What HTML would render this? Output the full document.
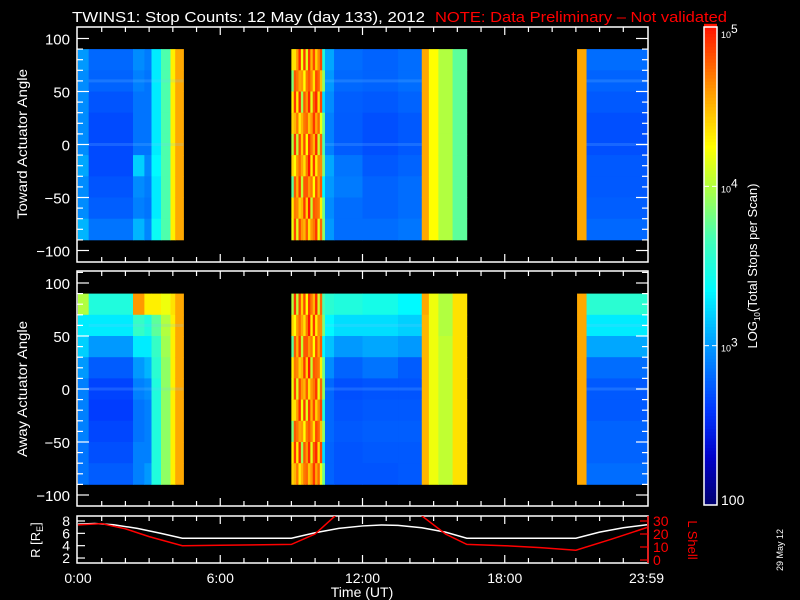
<!DOCTYPE html>
<html><head><meta charset="utf-8"><style>
html,body{margin:0;padding:0;background:#000;}
svg{display:block;font-family:"Liberation Sans",sans-serif;}
</style></head><body>
<svg id="c" width="800" height="600" viewBox="0 0 800 600">
<rect width="800" height="600" fill="#000"/>
<g id="heat"></g>
<g id="axes"></g>
<text x="72" y="22" fill="#fff" font-size="15" textLength="353" lengthAdjust="spacingAndGlyphs">TWINS1: Stop Counts: 12 May (day 133), 2012</text>
<text x="435" y="22" fill="#f00" font-size="15" textLength="292" lengthAdjust="spacingAndGlyphs">NOTE: Data Preliminary – Not validated</text>
<text transform="translate(27,144) rotate(-90)" text-anchor="middle" fill="#fff" font-size="14" textLength="150" lengthAdjust="spacingAndGlyphs">Toward Actuator Angle</text>
<text transform="translate(27,389) rotate(-90)" text-anchor="middle" fill="#fff" font-size="14" textLength="136" lengthAdjust="spacingAndGlyphs">Away Actuator Angle</text>
<text transform="translate(40,540) rotate(-90)" text-anchor="middle" fill="#fff" font-size="13">R [R<tspan font-size="9" dy="3">E</tspan><tspan dy="-3">]</tspan></text>
<text transform="translate(688,540) rotate(90)" text-anchor="middle" fill="#f00" font-size="13">L Shell</text>
<text x="362" y="597" text-anchor="middle" fill="#fff" font-size="14">Time (UT)</text>
<text transform="translate(783,550) rotate(-90)" text-anchor="middle" fill="#fff" font-size="9">29 May 12</text>
<text transform="translate(757,266) rotate(-90)" text-anchor="middle" fill="#fff" font-size="13">LOG<tspan font-size="8" dy="3">10</tspan><tspan dy="-3">(Total Stops per Scan)</tspan></text>
</svg>
<script>
// ---- data ----
const segStart = [0.0,0.45,2.32,2.8,3.1,3.5,3.9,4.1, 10.4,10.8,12.0,13.5, 14.5,14.8,15.2,15.8, 21.05,21.45];
const segEnd   = [0.45,2.32,2.8,3.1,3.5,3.9,4.1,4.45, 10.8,12.0,13.5,14.5, 14.8,15.2,15.8,16.4, 21.45,24.0];
const topGrid = [
 [3.0,2.95,2.95,2.95,2.95,3.05,2.95,2.95,3.1],
 [2.8,2.78,2.72,2.68,2.68,2.68,2.72,2.76,2.85],
 [2.95,2.9,2.85,2.85,2.85,3.2,2.95,2.9,3.1],
 [2.88,2.85,2.85,2.85,2.85,2.92,2.88,2.85,2.92],
 [3.3,3.3,3.3,3.3,3.3,3.35,3.3,3.3,3.4],
 [3.7,3.7,3.7,3.7,3.7,3.7,3.7,3.7,3.7],
 [4.3,4.3,4.3,4.3,4.3,4.3,4.3,4.3,4.3],
 [4.55,4.55,4.55,4.55,4.55,4.55,4.55,4.55,4.55],
 [3.05,3.0,2.95,2.9,2.9,3.05,3.0,2.95,3.0],
 [2.82,2.8,2.76,2.75,2.75,2.85,2.88,2.82,2.82],
 [2.78,2.78,2.74,2.7,2.7,2.74,2.78,2.78,2.82],
 [2.82,2.82,2.78,2.74,2.74,2.78,2.82,2.82,2.86],
 [4.55,4.55,4.55,4.55,4.55,4.55,4.55,4.55,4.55],
 [4.25,4.25,4.25,4.25,4.25,4.25,4.25,4.25,4.25],
 [4.0,4.0,4.0,4.0,4.0,4.0,4.0,4.0,4.0],
 [3.75,3.75,3.75,3.75,3.75,3.75,3.75,3.75,3.75],
 [4.55,4.55,4.55,4.55,4.55,4.55,4.55,4.55,4.55],
 [2.82,2.78,2.74,2.7,2.7,2.74,2.74,2.76,2.8]
];
const botGrid = [
 [4.0,3.3,3.2,3.0,2.9,2.9,2.9,2.85,2.85],
 [3.5,3.3,3.0,2.75,2.65,2.62,2.66,2.7,2.75],
 [4.6,3.6,3.3,3.0,2.9,2.85,2.85,2.9,2.9],
 [4.3,3.5,3.3,3.1,2.95,2.9,2.9,2.9,3.0],
 [4.3,3.75,3.6,3.55,3.5,3.5,3.5,3.5,3.5],
 [4.2,4.0,3.95,3.9,3.9,3.9,3.9,3.9,3.9],
 [4.35,4.3,4.3,4.3,4.3,4.3,4.3,4.3,4.3],
 [4.55,4.55,4.55,4.55,4.55,4.55,4.55,4.55,4.55],
 [3.55,3.35,3.15,2.95,2.8,2.8,2.8,2.78,2.78],
 [3.5,3.25,3.0,2.78,2.7,2.72,2.74,2.72,2.72],
 [3.45,3.25,3.05,2.85,2.72,2.74,2.76,2.74,2.72],
 [3.35,3.2,3.0,2.75,2.72,2.74,2.76,2.74,2.74],
 [4.55,4.5,4.5,4.5,4.5,4.5,4.5,4.5,4.5],
 [4.2,4.2,4.2,4.2,4.2,4.2,4.2,4.2,4.2],
 [4.0,4.0,4.05,4.05,4.05,4.05,4.05,4.05,4.05],
 [4.35,4.35,4.35,4.35,4.35,4.35,4.35,4.35,4.35],
 [4.55,4.55,4.55,4.55,4.55,4.55,4.55,4.55,4.55],
 [3.55,3.3,3.05,2.82,2.74,2.74,2.78,2.78,2.82]
];
// noisy high-count interval 9.0 - 10.4 h, 0.1 h columns
const noiseStart = 9.0;
const noiseCols = [4.2,4.7,4.5,4.75,4.4,4.7,4.6,4.8,4.5,4.7,4.75,4.55,4.65,3.7];
const noiseRows = [0.15,-0.35,0.1,0.2,-0.2,0.2,-0.45,0.1,0.0];
const bandEdges = [90,70,50,30,10,-10,-30,-50,-70,-90];
// orbit
const orbitHours = [0,0.7,1.5,2.5,3.5,4.4,9.0,10,11,12,12.8,13.5,14.5,15.5,16.4,21.0,22,23,24];
const orbitR     = [7.5,7.6,7.4,6.8,6.0,5.2,5.2,6.1,6.8,7.2,7.35,7.3,6.9,6.2,5.2,5.2,6.2,6.9,7.4];
const lHoursA = [0,1,2,3,4.4,6,9,10,10.85];
const lValsA  = [27,28,24,18,11,11.3,12,20,34];
const lHoursB = [14.5,15.5,16.4,18,19.5,21,22.5,24];
const lValsB  = [34,20,12,11,9.5,7.5,16,25];
const xTickLabels = ['0:00','6:00','12:00','18:00','23:59'];
const xTickHours = [0,6,12,18,23.98];
const yTickVals = [100,50,0,-50,-100];
const rTicks = [8,6,4,2];
const lTicks = [30,20,10,0];
const cbTicks = [5,4,3,2];
const cbLabels = ['10','10','10','100'];
const cbExp = ['5','4','3',''];

// ---- scales ----
const X0=78, X1=647;
const xs = h => X0 + h/24*(X1-X0);
const panels = [{c:144.5, top:27, bot:262, grid:topGrid, name:'top'},{c:389, top:271, bot:506, grid:botGrid, name:'bottom'}];
const ys = (p,a) => p.c - a*1.06;
const cbY = v => 505 - (v-2)/3*478;
const rY = r => 521 + (8-r)*6.17;
const lY = l => 560 - l*1.3;

const stops=[[0,0,0,110],[0.1,0,0,200],[0.2,0,55,255],[0.33,0,150,255],[0.45,0,250,255],[0.56,70,255,180],[0.67,180,255,60],[0.75,255,255,0],[0.87,255,150,0],[1,255,20,0]];
function col(v){let t=Math.max(0,Math.min(1,(v-2)/3));for(let i=1;i<stops.length;i++){if(t<=stops[i][0]){const a=stops[i-1],b=stops[i],f=(t-a[0])/(b[0]-a[0]);return `rgb(${Math.round(a[1]+f*(b[1]-a[1]))},${Math.round(a[2]+f*(b[2]-a[2]))},${Math.round(a[3]+f*(b[3]-a[3]))})`;}}return 'rgb(255,20,0)';}

const NS='http://www.w3.org/2000/svg';
function mk(tag,attrs,parent){const e=document.createElementNS(NS,tag);for(const k in attrs)e.setAttribute(k,attrs[k]);parent.appendChild(e);return e;}
const heat=document.getElementById('heat'), axes=document.getElementById('axes'), svg=document.getElementById('c');

panels.forEach(p=>{
  const g=mk('g',{},heat);
  
  
  for(let i=0;i<segStart.length;i++){
    for(let j=0;j<9;j++){
      const x=xs(segStart[i]), w=xs(segEnd[i])-x, y=ys(p,bandEdges[j]), h=ys(p,bandEdges[j+1])-y;
      const r=mk('rect',{x:x,y:y,width:w+0.4,height:h+0.4,fill:col(p.grid[i][j])},g);
      
      
    }
  }
  for(let i=0;i<noiseCols.length;i++){
    for(let j=0;j<9;j++){
      const x=xs(noiseStart+i*0.1), w=xs(noiseStart+(i+1)*0.1)-x, y=ys(p,bandEdges[j]), h=ys(p,bandEdges[j+1])-y;
      const r=mk('rect',{x:x,y:y,width:w+0.4,height:h+0.4,fill:col(noiseCols[i]+noiseRows[(i+j+(p.name==='top'?0:4))%9])},g);
      
      
    }
  }
  [[0.45,4.45],[10.4,14.5],[21.45,24]].forEach(s=>{
    [60,0].forEach(a=>{
      const r=mk('rect',{x:xs(s[0]),y:ys(p,a)-1.5,width:xs(s[1])-xs(s[0]),height:3,fill:'rgba(120,200,255,0.2)'},g);
      
      
    });
  });
  const f=mk('rect',{x:77,y:p.top,width:571,height:p.bot-p.top,fill:'none',stroke:'#fff','stroke-width':1.5},axes);
  
  
  for(let a=-110;a<=110;a+=10){
    const y=ys(p,a); if(y<p.top+1||y>p.bot-1) continue;
    const L=(a%50===0)?12:6;
    mk('line',{x1:77,x2:77+L,y1:y,y2:y,stroke:'#fff','stroke-width':1.2},axes);
    mk('line',{x1:648,x2:648-L,y1:y,y2:y,stroke:'#fff','stroke-width':1.2},axes);
  }
  yTickVals.forEach(v=>{
    const t=mk('text',{x:70,y:ys(p,v)+6,'text-anchor':'end',fill:'#fff','font-size':15},axes);
    t.textContent=v===0?'0':(v<0?'\u2212'+(-v):String(v));
    
    
  });
  for(let h=1;h<24;h++){
    const L=(h%6===0)?8:5;
    mk('line',{x1:xs(h),x2:xs(h),y1:p.top,y2:p.top+L,stroke:'#fff','stroke-width':1.2},axes);
    mk('line',{x1:xs(h),x2:xs(h),y1:p.bot,y2:p.bot-L,stroke:'#fff','stroke-width':1.2},axes);
  }
});

// orbit panel
const of=mk('rect',{x:77,y:516,width:571,height:47,fill:'none',stroke:'#fff','stroke-width':1.5},axes);


mk('line',{x1:648,x2:648,y1:516,y2:563,stroke:'#f00','stroke-width':1.5},axes);
for(let h=1;h<24;h++){
  const L=(h%6===0)?8:5;
  mk('line',{x1:xs(h),x2:xs(h),y1:516,y2:516+L,stroke:'#fff','stroke-width':1.2},axes);
  mk('line',{x1:xs(h),x2:xs(h),y1:563,y2:563-L,stroke:'#fff','stroke-width':1.2},axes);
}
rTicks.forEach(r=>{
  mk('line',{x1:77,x2:85,y1:rY(r),y2:rY(r),stroke:'#fff','stroke-width':1.2},axes);
  const t=mk('text',{x:70,y:rY(r)+5,'text-anchor':'end',fill:'#fff','font-size':14},axes);
  t.textContent=String(r);
  
  
});
lTicks.forEach(l=>{
  mk('line',{x1:648,x2:640,y1:lY(l),y2:lY(l),stroke:'#f00','stroke-width':1.2},axes);
  const t=mk('text',{x:653,y:lY(l)+5,fill:'#f00','font-size':14},axes);
  t.textContent=String(l);
  
  
});
mk('clipPath',{id:'oc'},svg).appendChild((()=>{const r=document.createElementNS(NS,'rect');r.setAttribute('x',77);r.setAttribute('y',516);r.setAttribute('width',571);r.setAttribute('height',47);return r;})());
const rl=mk('polyline',{points:orbitHours.map((h,i)=>xs(h)+','+rY(orbitR[i])).join(' '),fill:'none',stroke:'#fff','stroke-width':1.5,'clip-path':'url(#oc)'},axes);


[[lHoursA,lValsA],[lHoursB,lValsB]].forEach(s=>{
  const pl=mk('polyline',{points:s[0].map((h,i)=>xs(h)+','+lY(s[1][i])).join(' '),fill:'none',stroke:'#f00','stroke-width':1.5,'clip-path':'url(#oc)'},axes);
  
  
});
xTickLabels.forEach((s,i)=>{
  const t=mk('text',{x:xs(xTickHours[i]),y:583,'text-anchor':'middle',fill:'#fff','font-size':14},axes);
  t.textContent=s;
  
  
});

// colorbar
const cb=mk('g',{},axes);


for(let v=2;v<5;v+=0.02){
  mk('rect',{x:704,y:cbY(v+0.02),width:13,height:cbY(v)-cbY(v+0.02)+0.5,fill:col(v+0.01)},cb);
}
mk('rect',{x:704,y:27,width:13,height:478,fill:'none',stroke:'#fff','stroke-width':1.5},cb);
cbTicks.forEach((v,i)=>{
  if(v>2&&v<5){mk('line',{x1:704,x2:709,y1:cbY(v),y2:cbY(v),stroke:'#fff'},cb);mk('line',{x1:712,x2:717,y1:cbY(v),y2:cbY(v),stroke:'#fff'},cb);}
  const y=v===5?38:(v===2?505:cbY(v)+6);
  const t=mk('text',{x:721,y:y,fill:'#fff','font-size':v===2?14:9},cb);
  t.textContent=cbLabels[i];
  if(cbExp[i]){const ts=document.createElementNS(NS,'tspan');ts.setAttribute('dy','-5');ts.setAttribute('font-size','12');ts.textContent=cbExp[i];t.appendChild(ts);}
  
  
});
</script>
</body></html>
